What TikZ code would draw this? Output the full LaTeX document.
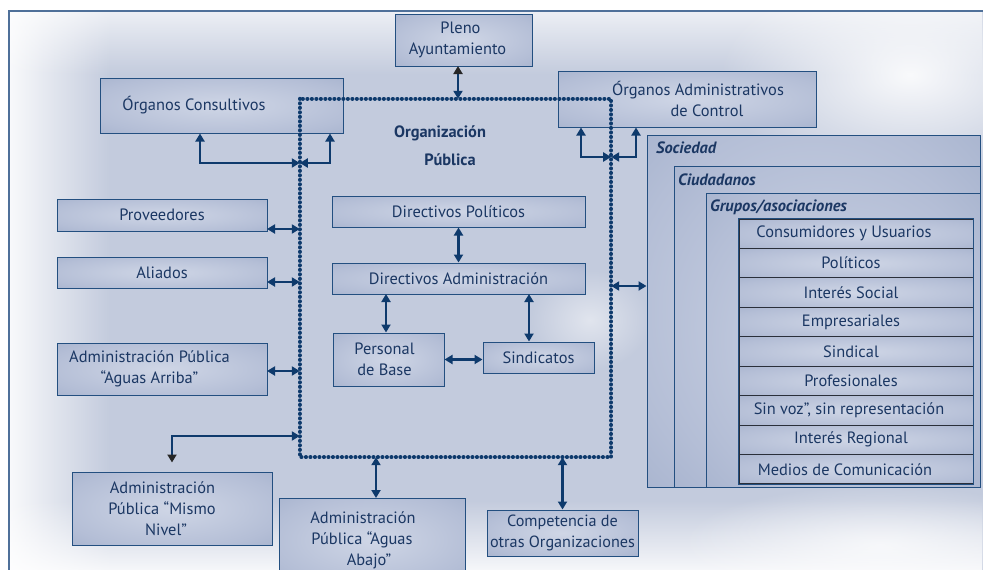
\documentclass[tikz,border=0pt]{standalone}
\usepackage{fontspec}
\setmainfont{PT Sans}
\usetikzlibrary{arrows.meta,fadings}

\definecolor{ink}{HTML}{1B3763}
\definecolor{navy}{HTML}{0E3A6C}
\definecolor{edge}{HTML}{234F80}
\definecolor{rowline}{HTML}{2A2F3A}
\definecolor{frameline}{HTML}{4F7099}
\definecolor{bgbase}{HTML}{C3CBDD}
\definecolor{boxin}{HTML}{CFD6E6}
\definecolor{boxmid}{HTML}{B4BED6}
\definecolor{boxout}{HTML}{97A6C4}

\pgfdeclareradialshading{boxshade}{\pgfpoint{0bp}{0bp}}{color(0bp)=(boxin); color(28bp)=(boxmid); color(50bp)=(boxout)}

% soft white overlays for the paler margins of the background
\tikzfading[name=fromleft, left color=transparent!0, right color=transparent!100]
\tikzfading[name=fromtop, top color=transparent!0, bottom color=transparent!100]
\tikzfading[name=frombottom, bottom color=transparent!0, top color=transparent!100]
\tikzfading[name=softspot, inner color=transparent!0, outer color=transparent!100]

\tikzset{
  txt/.style={font=\fontsize{16.4}{21}\selectfont, text=ink},
  box/.style={txt, draw=edge, line width=1pt, shading=boxshade, align=center, inner sep=1pt},
  layer/.style={draw=edge, line width=1pt, shading=boxshade},
  rowbox/.style={txt, draw=rowline, line width=1pt, shading=boxshade, minimum width=234pt, minimum height=29.44pt, inner sep=0pt},
  grouplabel/.style={font=\fontsize{16.4}{21}\selectfont\bfseries\itshape, text=ink, anchor=west, inner sep=0pt},
  orglabel/.style={font=\fontsize{16.4}{21}\selectfont\bfseries, text=ink},
  dots/.style={draw=navy, line width=4pt, dash pattern=on 0.1pt off 4.4pt, line cap=round, line join=round},
  arr/.style={navy, line width=2.7pt, {Triangle[length=8pt,width=9pt]}-{Triangle[length=8pt,width=9pt]}},
  darr/.style={navy, line width=2.7pt, {Triangle[length=8pt,width=9pt,color=black!85]}-{Triangle[length=8pt,width=9pt]}},
  haze/.style={fill=white, path fading=#1},
}
% moves a centred line sideways by half the given amount
\newcommand\nudgeline[1]{\hspace*{#1}}

\begin{document}
\begin{tikzpicture}[x=1pt,y=-1pt]
\useasboundingbox (0,0) rectangle (983,570);

% page background and frame
\fill[white] (0,0) rectangle (983,570);
\fill[bgbase] (9,11) rectangle (983,570);
\fill[haze=fromleft, fill opacity=0.9] (9,11) rectangle (110,570);
\fill[haze=fromtop, fill opacity=0.7] (9,11) rectangle (983,75);
\fill[haze=frombottom, fill opacity=0.85] (9,500) rectangle (983,570);
\fill[haze=softspot, fill opacity=0.9] (910,75) ellipse [x radius=190pt, y radius=110pt];
\fill[haze=softspot, fill opacity=0.7] (880,545) ellipse [x radius=200pt, y radius=60pt];
\fill[haze=softspot, fill opacity=0.5] (590,320) ellipse [x radius=60pt, y radius=50pt];
\draw[frameline, line width=1.5pt] (9,570) -- (9,11) -- (983,11);

% central organisation: its area, boundary drawn later on top
\node[minimum width=311pt, minimum height=358pt, inner sep=0pt] (org) at (455.5,278) {};
\node[orglabel] (orgt1) at (440,133) {Organización};
\node[orglabel] (orgt2) at (450,160) {Pública};

% boxes around the organisation
\node[box, minimum width=137pt, minimum height=52pt] (pleno) at (463.5,40) {\nudgeline{-6pt}Pleno\\\nudgeline{-12pt}Ayuntamiento};
\node[box, minimum width=243pt, minimum height=55pt] (cons) at (221.5,105.5) {\nudgeline{-55pt}Órganos Consultivos};
\node[box, minimum width=258pt, minimum height=56pt] (ctrl) at (687,99) {\nudgeline{22pt}Órganos Administrativos\\\nudgeline{40pt}de Control};
\node[box, minimum width=210pt, minimum height=32pt] (prov) at (162,215) {Proveedores};
\node[box, minimum width=210pt, minimum height=31pt] (ali) at (162,272.5) {Aliados};
\node[box, minimum width=210pt, minimum height=52pt] (arriba) at (162,369) {\nudgeline{-25pt}Administración Pública\\\nudgeline{-25pt}“Aguas Arriba”};
\node[box, minimum width=200pt, minimum height=73pt] (mismo) at (172,508.5) {\nudgeline{-19pt}Administración\\\nudgeline{-20pt}Pública “Mismo\\\nudgeline{-12pt}Nivel”};
\node[box, minimum width=186pt, minimum height=84pt] (abajo) at (372,540) {\nudgeline{-18pt}Administración\\\nudgeline{-20pt}Pública “Aguas\\\nudgeline{-6pt}Abajo”};
\node[box, minimum width=151pt, minimum height=46pt, inner sep=0pt, font=\fontsize{16.2}{21}\selectfont] (comp) at (562.5,533) {Competencia de\\otras Organizaciones};

% inner structure
\node[box, minimum width=253pt, minimum height=31pt] (dpol) at (458.5,211.5) {Directivos Políticos};
\node[box, minimum width=253pt, minimum height=31pt] (dadm) at (458.5,278.5) {Directivos Administración};
\node[box, minimum width=111pt, minimum height=53pt] (pbase) at (388.5,359.5) {\nudgeline{-8pt}Personal\\\nudgeline{-8pt}de Base};
\node[box, minimum width=111pt, minimum height=31pt] (sind) at (538.5,357.5) {Sindicatos};

% society layers
\node[layer, minimum width=333pt, minimum height=352pt, inner sep=0pt] (soc) at (813.5,311) {};
\node[layer, minimum width=306pt, minimum height=321pt, inner sep=0pt] (ciud) at (827,326.5) {};
\node[layer, minimum width=274pt, minimum height=294pt, inner sep=0pt] (grup) at (843,340) {};
\node[grouplabel] (socl) at (656,148) {Sociedad};
\node[grouplabel] (ciudl) at (678,180) {Ciudadanos};
\node[grouplabel] (grupl) at (710,207) {Grupos/asociaciones};

\foreach \t [count=\i] in {{\nudgeline{-24pt}Consumidores y Usuarios}, {\nudgeline{-10pt}Políticos}, {\nudgeline{-10pt}Interés Social}, {\nudgeline{-10pt}Empresariales}, {\nudgeline{-10pt}Sindical}, {\nudgeline{-10pt}Profesionales}, {\nudgeline{-14pt}Sin voz”, sin representación}, {\nudgeline{-10pt}Interés Regional}, {\nudgeline{-22pt}Medios de Comunicación}}
  \node[rowbox] (row\i) at (856,{219+29.44*(\i-0.5)}) {\t};
\draw[edge, line width=1pt] (row1.north west) rectangle (row9.south east);

% dotted boundary of the organisation, over the neighbouring boxes
\draw[dots] (org.north west) rectangle (org.south east);

% connectors
\coordinate (c1) at (200,163);
\coordinate (c2) at (330,163);
\draw[arr] (c1 |- cons.south) -- (c1) -- (org.west |- c1);
\draw[arr] (c2 |- cons.south) -- (c2) -- (org.west |- c2);

\coordinate (d1) at (581,157);
\coordinate (d2) at (636,157);
\draw[arr] (d1 |- ctrl.south) -- (d1) -- (org.east |- d1);
\draw[arr] (d2 |- ctrl.south) -- (d2) -- (org.east |- d2);

\coordinate (pl) at (458,66);
\draw[darr] (pl) -- (pl |- org.north);

\coordinate (p1) at (267,229);
\coordinate (p2) at (267,282);
\coordinate (p3) at (267,371);
\draw[arr] (p1) -- (org.west |- p1);
\draw[arr] (p2) -- (org.west |- p2);
\draw[arr] (p3) -- (org.west |- p3);

\coordinate (m1) at (172,436);
\draw[darr] ([yshift=9pt]mismo.north) -- (m1) -- (org.west |- m1);

\coordinate (ab) at (376,498);
\draw[arr] (ab |- org.south) -- (ab);
\draw[arr] (comp.north |- org.south) -- (comp.north);

\coordinate (s1) at (611,286);
\draw[arr] (org.east |- s1) -- (soc.west |- s1);

\draw[arr] (dpol.south) -- (dadm.north);
\coordinate (i1) at (386,294);
\coordinate (i2) at (529,294);
\draw[arr] (i1) -- (i1 |- pbase.north);
\draw[arr] (i2) -- (i2 |- sind.north);
\draw[arr] (pbase.east) -- (pbase.east -| sind.west);
\end{tikzpicture}
\end{document}
